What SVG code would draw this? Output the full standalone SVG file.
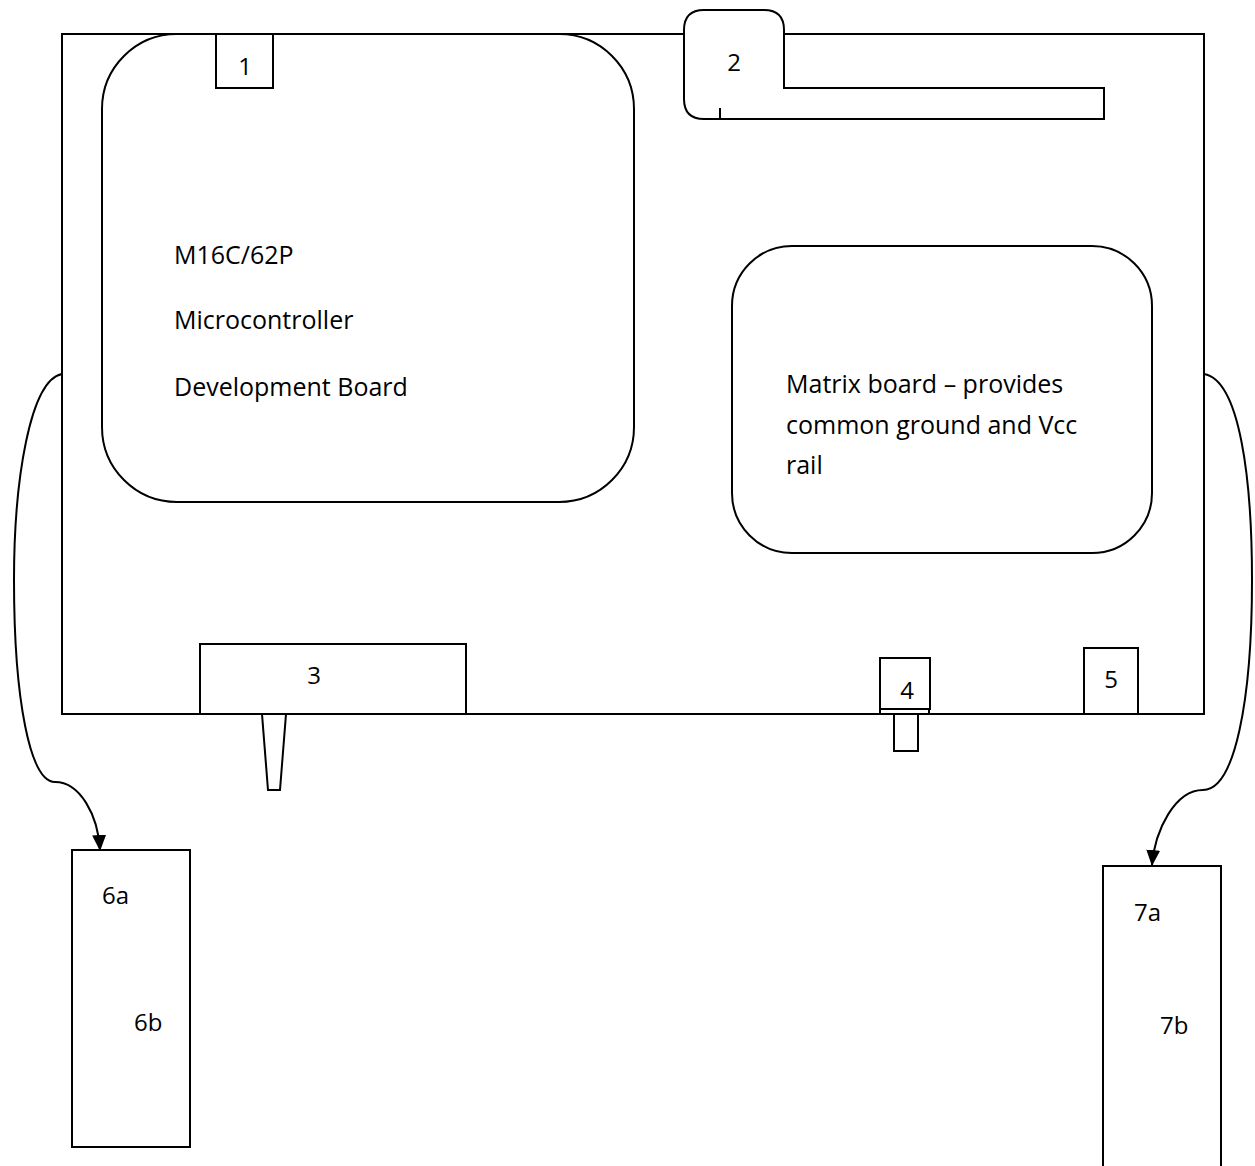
<svg xmlns="http://www.w3.org/2000/svg" width="1255" height="1166" viewBox="0 0 1255 1166">
<style>
.s{fill:#fff;stroke:#000;stroke-width:2}
.c{fill:none;stroke:#000;stroke-width:2}
text{font-family:"Open Sans","Noto Sans",sans-serif;font-size:24px;fill:#000}
.b{font-size:25px}
.m{text-anchor:middle}
</style>
<defs>
<marker id="ah" markerWidth="16" markerHeight="14" refX="15" refY="7" orient="auto" markerUnits="userSpaceOnUse">
<path d="M0,0 L16,7 L0,14 Z" fill="#000"/>
</marker>
</defs>
<rect width="1255" height="1166" fill="#fff"/>
<g id="base"><rect class="s" x="62" y="34" width="1142" height="680"/></g>
<g id="devboard">
<rect class="s" x="102" y="34" width="532" height="468" rx="75" ry="75"/>
<text class="b" x="174" y="264">M16C/62P</text>
<text class="b" x="174" y="329">Microcontroller</text>
<text class="b" x="174" y="396">Development Board</text>
</g>
<g id="n1"><rect class="s" x="216" y="34" width="57" height="54"/><text class="m" x="245" y="75">1</text></g>
<g id="n2">
<path class="s" d="M784,88 L784,30 Q784,10 764,10 L704,10 Q684,10 684,30 L684,99 Q684,119 704,119 L1104,119 L1104,88 Z"/>
<line class="c" x1="720" y1="108" x2="720" y2="119"/>
<text class="m" x="734" y="71">2</text>
</g>
<g id="matrix">
<rect class="s" x="732" y="246" width="420" height="307" rx="60" ry="60"/>
<text class="b" x="786" y="393">Matrix board – provides</text>
<text class="b" x="786" y="434">common ground and Vcc</text>
<text class="b" x="786" y="474">rail</text>
</g>
<g id="n3">
<rect class="s" x="200" y="644" width="266" height="70"/>
<path class="s" d="M262,714 L286,714 L280,790 L268,790 Z"/>
<text class="m" x="314" y="684">3</text>
</g>
<g id="n4">
<rect class="s" x="880" y="658" width="50" height="51"/>
<rect class="s" x="880" y="709" width="49" height="5"/>
<rect class="s" x="894" y="714" width="24" height="37"/>
<text class="m" x="907" y="699">4</text>
</g>
<g id="n5"><rect class="s" x="1084" y="648" width="54" height="66"/><text class="m" x="1111" y="688">5</text></g>
<g id="n6">
<rect class="s" x="72" y="850" width="118" height="297"/>
<text x="102" y="904">6a</text>
<text x="134" y="1031">6b</text>
</g>
<g id="n7">
<rect class="s" x="1103" y="866" width="118" height="310"/>
<text x="1134" y="921">7a</text>
<text x="1160" y="1034">7b</text>
</g>
<g id="connectors">
<path class="c" marker-end="url(#ah)" d="M62,374 C30,380 14,480 14,580 C14,700 30,782 55,782 C80,782 98,815 100,850"/>
<path class="c" marker-end="url(#ah)" d="M1204,374 C1240,380 1252,480 1252,580 C1252,700 1235,790 1203,790 C1175,790 1155,830 1152,865"/>
</g>
</svg>
